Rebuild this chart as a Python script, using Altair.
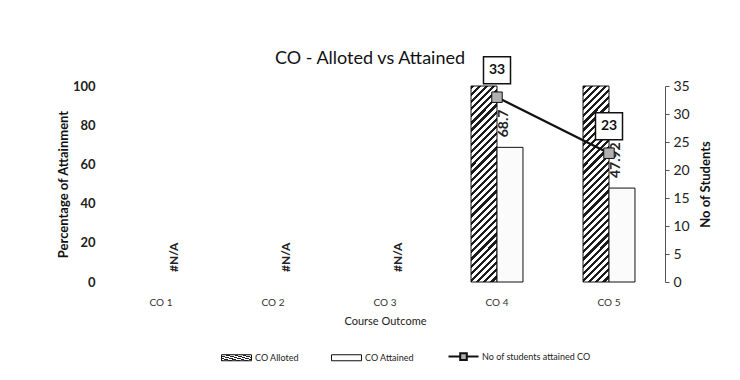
import altair as alt
import pandas as pd

# ---- data ----
categories = ["CO 1", "CO 2", "CO 3", "CO 4", "CO 5"]
co_alloted = [None, None, None, 100, 100]
co_attained = [None, None, None, 68.7, 47.92]
attained_labels = ["#N/A", "#N/A", "#N/A", "68.7", "47.92"]
students = [None, None, None, 33, 23]
series_names = ["CO Alloted", "CO Attained", "No of students attained CO"]
left_ticks = [0, 20, 40, 60, 80, 100]
right_ticks = [0, 5, 10, 15, 20, 25, 30, 35]

FONT = "Lato"

bars_df = pd.DataFrame({
    "co": categories * 2,
    "series": [series_names[0]] * 5 + [series_names[1]] * 5,
    "value": co_alloted + co_attained,
}).dropna()

labels_df = pd.DataFrame({
    "co": categories,
    "attained": co_attained,
    "label": attained_labels,
    "series": [series_names[1]] * 5,
})

students_df = pd.DataFrame({"co": categories, "students": students}).dropna()


def hatch(x2, y2, n, frac=0.45, dark="#1c1c1c", light="#ffffff"):
    stops = []
    for i in range(n):
        a, b, c = i / n, (i + frac) / n, (i + 1) / n
        stops += [
            {"offset": a, "color": dark},
            {"offset": b, "color": dark},
            {"offset": b, "color": light},
            {"offset": c, "color": light},
        ]
    return {"gradient": "linear", "x1": 0, "y1": 0, "x2": x2, "y2": y2, "stops": stops}


def js(obj):
    if isinstance(obj, dict):
        return "{" + ",".join(f"{k}:{js(v)}" for k, v in obj.items()) + "}"
    if isinstance(obj, list):
        return "[" + ",".join(js(v) for v in obj) + "]"
    if isinstance(obj, str):
        return "'" + obj + "'"
    return repr(obj)


hatch_bar = hatch(0.148, 1.113, 31)

rect_path = "M-1,-0.2L1,-0.2L1,0.2L-1,0.2Z"
line_path = "M-1,0L-0.22,0M0.22,0L1,0M-0.22,-0.22L0.22,-0.22L0.22,0.22L-0.22,0.22Z"
shape_expr = f"datum.value === '{series_names[2]}' ? '{line_path}' : '{rect_path}'"
sw_expr = f"datum.value === '{series_names[2]}' ? 2 : 1"

legend = alt.Legend(
    title=None,
    orient="none",
    legendX=127,
    legendY=266,
    direction="horizontal",
    symbolSize=900,
    symbolType=alt.ExprRef(shape_expr),
    symbolStrokeColor="#111",
    symbolStrokeWidth=alt.ExprRef(sw_expr),
    symbolOpacity=1,
    labelFont=FONT,
    labelFontSize=9,
    labelColor="#222",
    labelOffset=14,
    columnPadding=30,
)

fill_scale = alt.Scale(
    domain=series_names,
    range=[alt.ExprRef(js(hatch_bar)), "#fbfbfb", "#b0b0b0"],
)

x_scale = alt.Scale(domain=categories, paddingInner=0.536, paddingOuter=0.268)
x_axis = alt.Axis(
    domain=False, ticks=False, grid=False, labelAngle=0, labelFont=FONT,
    labelFontSize=10, labelColor="#333", labelPadding=15, titleFont=FONT,
    titleFontSize=11, titleFontWeight="normal", titleColor="#222", titlePadding=8,
)
left_axis = alt.Axis(
    values=left_ticks, domain=False, ticks=False, grid=False, labelOverlap=False,
    labelBound=False, labelFlush=False,
    labelFont=FONT, labelFontSize=13, labelFontWeight="bold", labelColor="#222",
    labelPadding=10, titleFont=FONT, titleFontSize=13, titleFontWeight="bold",
    titleColor="#111", titlePadding=2,
)
right_axis = alt.Axis(
    orient="right", values=right_ticks, domain=True, domainColor="#555",
    domainWidth=1, ticks=True, tickSize=4, tickColor="#555", grid=False,
    labelOverlap=False, labelFont=FONT, labelFontSize=14, labelColor="#222",
    labelPadding=4, titleFont=FONT, titleFontSize=13,
    titleFontWeight="bold", titleColor="#111", titleAngle=270,
    titleBaseline="top", titlePadding=10,
)
xoff = alt.XOffset(
    "series:N", scale=alt.Scale(domain=series_names[:2], paddingInner=0, paddingOuter=0)
)

X_TITLE = "Course Outcome"
Y_TITLE = "Percentage of Attainment"
Y2_TITLE = "No of Students"

bars = alt.Chart(bars_df).mark_bar(stroke="#111", strokeWidth=1).encode(
    x=alt.X("co:N", scale=x_scale, axis=x_axis, title=X_TITLE),
    xOffset=xoff,
    y=alt.Y("value:Q", scale=alt.Scale(domain=[0, 100]), axis=left_axis, title=Y_TITLE),
    fill=alt.Fill("series:N", scale=fill_scale, legend=legend),
)

labels_base = alt.Chart(labels_df).transform_calculate(
    ypos="datum.attained == null ? 0 : datum.attained"
)

na_text = labels_base.transform_filter("datum.attained == null").mark_text(
    angle=270, align="left", baseline="middle", dx=10, font=FONT, fontSize=12,
    fontWeight="bold", color="#222",
).encode(
    x=alt.X("co:N", axis=x_axis, title=X_TITLE), xOffset="series:N",
    y=alt.Y("ypos:Q", axis=left_axis, title=Y_TITLE), text="label:N",
)

num_text = labels_base.transform_filter("datum.attained != null").mark_text(
    angle=270, align="left", baseline="middle", dx=10, dy=-6, font=FONT, fontSize=14,
    fontWeight="bold", color="#222",
).encode(
    x=alt.X("co:N", axis=x_axis, title=X_TITLE), xOffset="series:N",
    y=alt.Y("ypos:Q", axis=left_axis, title=Y_TITLE), text="label:N",
)

left_group = alt.layer(bars, na_text, num_text)

base2 = alt.Chart(students_df).encode(
    x=alt.X("co:N", axis=x_axis, title=X_TITLE),
    y=alt.Y("students:Q", scale=alt.Scale(domain=[0, 35]), axis=right_axis, title=Y2_TITLE),
)
line = base2.mark_line(strokeWidth=2.2, color="#111")
markers = base2.mark_point(
    shape="square", size=110, filled=True, stroke="#111", strokeWidth=1, opacity=1,
).encode(fill=alt.datum(series_names[2]))
boxes = base2.mark_point(
    shape="square", size=729, filled=True, fill="white", stroke="#111",
    strokeWidth=1.5, opacity=1,
).encode(yOffset=alt.value(-27))
box_text = base2.mark_text(
    dy=-27, font=FONT, fontSize=14, fontWeight="bold", baseline="middle", color="#111"
).encode(text="students:Q")

right_group = alt.layer(line, markers, boxes, box_text)

chart = alt.layer(left_group, right_group).resolve_scale(y="independent").properties(
    width=560,
    height=196,
    autosize="none",
    padding={"left": 97, "top": 78, "right": 60, "bottom": 82},
    background="white",
    title=alt.TitleParams(
        "CO - Alloted vs Attained", font=FONT, fontSize=18, fontWeight="normal",
        color="#111", anchor="middle", frame="group", baseline="bottom",
        offset=22, dx=-15, dy=54,
    ),
).configure_view(strokeWidth=0, stroke="transparent").configure_axis(
    labelOverlap=False
)

chart.save("out.html", embed_options={"renderer": "svg", "actions": False})
